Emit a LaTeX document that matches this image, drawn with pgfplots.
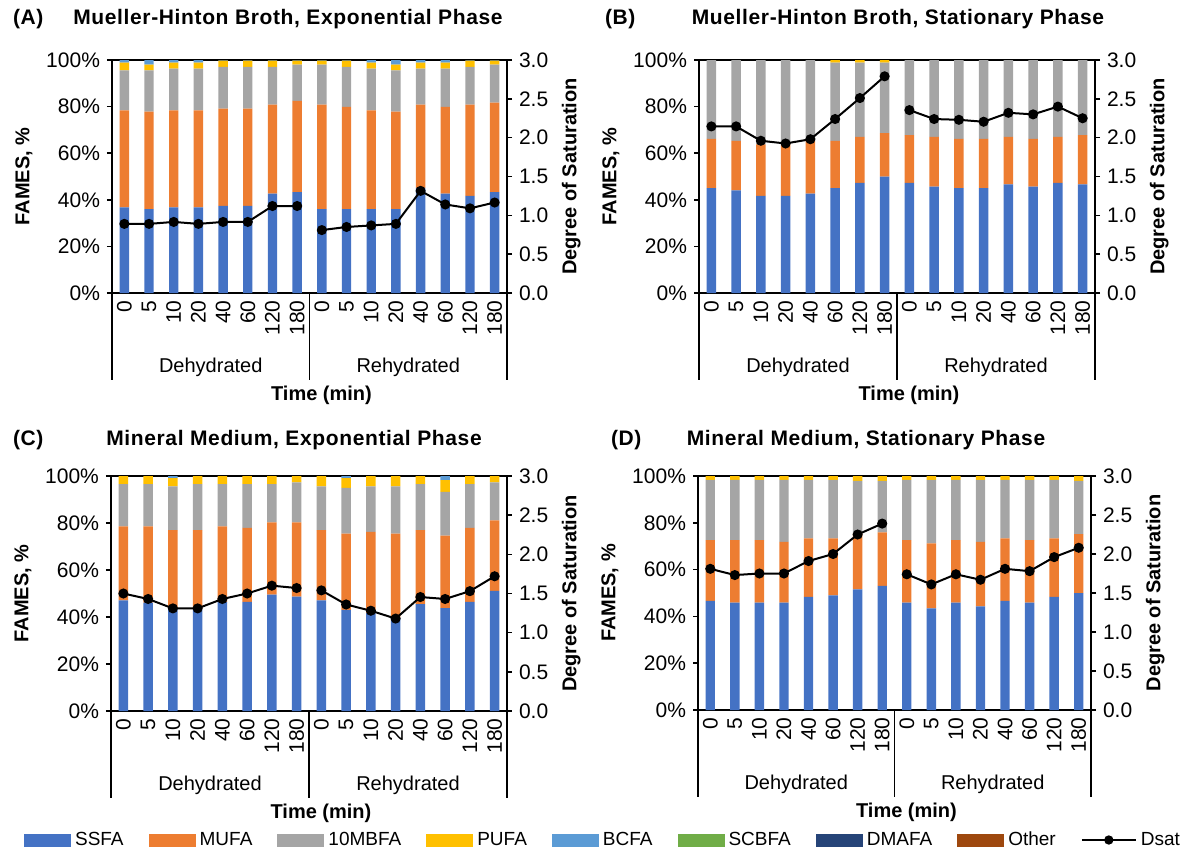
\documentclass[border=0pt]{standalone}
\usepackage{fontspec}
\setmainfont{Liberation Sans}
\usepackage{pgfplots}
\usepackage{pgfplotstable}
\pgfplotsset{compat=1.18}

\definecolor{cS}{HTML}{4472C4}
\definecolor{cM}{HTML}{ED7D31}
\definecolor{cG}{HTML}{A5A5A5}
\definecolor{cP}{HTML}{FFC000}
\definecolor{cB}{HTML}{5B9BD5}
\definecolor{cSC}{HTML}{70AD47}
\definecolor{cDM}{HTML}{264478}
\definecolor{cO}{HTML}{9E480E}

% x S(SSFA) M(MUFA) G(10MBFA) P(PUFA) B(BCFA) D(Dsat)
\pgfplotstableread{
x S M G P B D
0 36.7 41.7 17.2 3.3 1.1 0.89
1 36.0 41.8 17.8 2.4 2.0 0.89
2 36.7 41.7 17.9 2.6 1.1 0.915
3 36.7 41.7 17.9 2.6 1.1 0.89
4 37.4 41.7 18.0 2.6 0.3 0.915
5 37.4 41.7 18.0 2.6 0.3 0.915
6 42.6 38.2 16.3 2.6 0.3 1.12
7 43.3 39.2 15.5 1.7 0.3 1.12
8 36.0 44.8 17.2 1.7 0.3 0.81
9 36.0 43.9 17.2 2.6 0.3 0.85
10 36.0 42.4 17.9 2.6 1.1 0.87
11 36.0 41.8 17.8 2.4 2.0 0.89
12 45.1 35.7 15.5 2.6 1.1 1.315
13 42.6 37.3 16.4 2.6 1.1 1.14
14 41.7 39.1 16.3 2.6 0.3 1.09
15 43.3 38.4 16.3 1.7 0.3 1.165
}\tabA

\pgfplotstableread{
x S M G P B D
0 45.0 21.2 33.8 0 0 2.145
1 44.1 21.2 34.7 0 0 2.145
2 41.7 22.1 36.2 0 0 1.96
3 41.7 22.1 36.2 0 0 1.925
4 42.6 22.7 34.7 0 0 1.98
5 45.0 20.3 33.6 1.1 0 2.24
6 47.3 19.7 31.9 1.1 0 2.51
7 49.9 18.7 30.3 1.1 0 2.79
8 47.3 20.5 32.2 0 0 2.355
9 45.7 21.3 33.0 0 0 2.24
10 45.0 21.2 33.8 0 0 2.23
11 45.0 21.2 33.8 0 0 2.205
12 46.6 20.4 33.0 0 0 2.32
13 45.7 20.5 33.8 0 0 2.30
14 47.3 19.7 33.0 0 0 2.40
15 46.6 21.2 32.2 0 0 2.25
}\tabB

\pgfplotstableread{
x S M G P B D
0 47.1 31.5 17.9 3.5 0 1.50
1 46.1 32.5 17.9 3.5 0 1.43
2 43.7 33.3 18.6 3.5 0.9 1.31
3 43.3 33.7 19.5 3.5 0 1.31
4 46.4 32.2 17.9 3.5 0 1.43
5 46.4 31.5 18.6 3.5 0 1.50
6 49.5 30.8 16.2 3.5 0 1.60
7 48.7 31.6 17.0 2.7 0 1.57
8 47.1 29.9 18.6 4.4 0 1.54
9 43.0 32.5 19.4 4.2 0.9 1.36
10 41.8 34.4 19.4 4.4 0 1.28
11 39.7 35.8 20.1 4.4 0 1.18
12 45.5 31.5 19.5 3.5 0 1.455
13 43.8 30.8 18.7 4.9 1.8 1.43
14 46.4 31.5 18.6 3.5 0 1.53
15 51.1 30.0 16.2 2.7 0 1.72
}\tabC

\pgfplotstableread{
x S M G P B D
0 46.6 26.0 25.8 1.6 0 1.81
1 45.9 26.7 25.8 1.6 0 1.73
2 45.9 26.7 25.8 1.6 0 1.75
3 45.9 26.0 26.5 1.6 0 1.75
4 48.3 25.1 25.0 1.6 0 1.91
5 49.0 24.4 25.0 1.6 0 2.00
6 51.6 23.9 22.4 2.1 0 2.25
7 53.1 22.8 22.0 2.1 0 2.39
8 45.9 26.7 25.8 1.6 0 1.74
9 43.4 27.8 27.2 1.6 0 1.61
10 45.9 26.7 25.8 1.6 0 1.74
11 44.3 27.6 26.5 1.6 0 1.67
12 46.6 26.8 25.0 1.6 0 1.81
13 45.9 26.7 25.8 1.6 0 1.78
14 48.3 25.1 25.0 1.6 0 1.96
15 49.9 25.3 22.7 2.1 0 2.08
}\tabD

\pgfplotsset{
  /pgf/number format/assume math mode=true,
  barax/.style={
    scale only axis, anchor=north west, clip=false,
    font=\fontsize{10}{12}\selectfont,
    xmin=-0.5, xmax=15.5, ymin=0, ymax=100,
    ybar stacked, bar width=4.7pt,
    xtick={0,...,15},
    xticklabels={0,5,10,20,40,60,120,180,0,5,10,20,40,60,120,180},
    xticklabel style={rotate=90, anchor=east, inner sep=1pt, font=\fontsize{10.5}{12}\selectfont},
    yticklabel style={font=\fontsize{10.5}{12}\selectfont},
    xtick style={draw=none},
    ytick={0,20,...,100},
    yticklabels={0\%,20\%,40\%,60\%,80\%,100\%},
    ytick pos=left,
    tick align=outside, major tick length=2.5pt,
    tick style={line width=0.75pt, black},
    axis line style={line width=0.75pt},
    ylabel={\bfseries FAMES, \%},
    xlabel={\bfseries Time (min)},
    xlabel style={at={(axis description cs:0.5,0)}, anchor=center, yshift=-51pt, xshift=6pt},
  },
  dsatax/.style={
    scale only axis, anchor=north west, clip=false,
    font=\fontsize{10}{12}\selectfont,
    xmin=-0.5, xmax=15.5, ymin=0, ymax=3,
    axis y line*=right, axis x line=none,
    ytick={0,0.5,1,1.5,2,2.5,3},
    yticklabel style={font=\fontsize{10.5}{12}\selectfont, /pgf/number format/.cd, fixed, fixed zerofill, precision=1},
    tick align=outside, major tick length=2.5pt,
    tick style={line width=0.75pt, black},
    axis line style={line width=0.75pt},
    ylabel={\bfseries Degree of Saturation},
  },
  dsat/.style={black, line width=1pt, mark=*, mark size=2pt, mark options={solid, fill=black}},
  arealeg/.style={legend image code/.code={\fill[##1] (0pt,-3.25pt) rectangle (23.5pt,3.25pt);}},
  dsatleg/.style={legend image code/.code={\draw[mark repeat=2,mark phase=2,##1] plot coordinates {(0pt,0pt) (13.5pt,0pt) (27pt,0pt)};}},
}

\newcommand\panel[5]{%
\begin{axis}[barax, at={(#1,#2)}, width=#3, height=#4]
\addplot[fill=cS, draw=none] table[x=x,y=S]{#5};
\addplot[fill=cM, draw=none] table[x=x,y=M]{#5};
\addplot[fill=cG, draw=none] table[x=x,y=G]{#5};
\addplot[fill=cP, draw=none] table[x=x,y=P]{#5};
\addplot[fill=cB, draw=none] table[x=x,y=B]{#5};
\draw[line width=0.75pt] (axis cs:-0.5,0) -- ++(0pt,-43.5pt);
\draw[line width=0.75pt] (axis cs:7.5,0) -- ++(0pt,-43.5pt);
\draw[line width=0.75pt] (axis cs:15.5,0) -- ++(0pt,-43.5pt);
\node[font=\fontsize{10}{12}\selectfont] at (axis cs:3.5,0) [yshift=-37pt] {Dehydrated};
\node[font=\fontsize{10}{12}\selectfont] at (axis cs:11.5,0) [yshift=-37pt] {Rehydrated};
\end{axis}
\begin{axis}[dsatax, at={(#1,#2)}, width=#3, height=#4]
\addplot[dsat, restrict x to domain=0:7] table[x=x,y=D]{#5};
\addplot[dsat, restrict x to domain=8:15] table[x=x,y=D]{#5};
\end{axis}
}

\begin{document}
\begin{tikzpicture}
\useasboundingbox (0,0) rectangle (590pt,-428.5pt);

\panel{56pt}{-30pt}{197.5pt}{116.5pt}{\tabA}
\panel{349.5pt}{-30pt}{198pt}{116.5pt}{\tabB}
\panel{55.5pt}{-238pt}{198pt}{117.5pt}{\tabC}
\panel{349pt}{-238pt}{196.5pt}{117pt}{\tabD}

\begin{scope}[font=\bfseries\fontsize{10.5}{12}\selectfont\addfontfeature{LetterSpace=3}]
\node[anchor=west] at (3pt,-9.5pt) {(A)};
\node at (144pt,-9.5pt) {Mueller-Hinton Broth, Exponential Phase};
\node[anchor=west] at (299pt,-9.5pt) {(B)};
\node at (449pt,-9.5pt) {Mueller-Hinton Broth, Stationary Phase};
\node[anchor=west] at (3pt,-220pt) {(C)};
\node at (147pt,-220pt) {Mineral Medium, Exponential Phase};
\node[anchor=west] at (302pt,-220pt) {(D)};
\node at (433pt,-220pt) {Mineral Medium, Stationary Phase};
\end{scope}

\begin{axis}[hide axis, scale only axis, width=10pt, height=10pt,
  xmin=0, xmax=1, ymin=0, ymax=1,
  at={(302pt,-420pt)}, anchor=center,
  legend columns=9,
  legend style={at={(0.5,0.5)}, anchor=center, draw=none, fill=none,
    font=\fontsize{9.5}{11}\selectfont, inner sep=0pt,
    /tikz/every even column/.append style={column sep=10.5pt}}]
\addlegendimage{arealeg, fill=cS, draw=none}\addlegendentry{SSFA}
\addlegendimage{arealeg, fill=cM, draw=none}\addlegendentry{MUFA}
\addlegendimage{arealeg, fill=cG, draw=none}\addlegendentry{10MBFA}
\addlegendimage{arealeg, fill=cP, draw=none}\addlegendentry{PUFA}
\addlegendimage{arealeg, fill=cB, draw=none}\addlegendentry{BCFA}
\addlegendimage{arealeg, fill=cSC, draw=none}\addlegendentry{SCBFA}
\addlegendimage{arealeg, fill=cDM, draw=none}\addlegendentry{DMAFA}
\addlegendimage{arealeg, fill=cO, draw=none}\addlegendentry{Other}
\addlegendimage{dsatleg, black, line width=1pt, mark=*, mark size=1.8pt}\addlegendentry{Dsat}
\end{axis}
\end{tikzpicture}
\end{document}
